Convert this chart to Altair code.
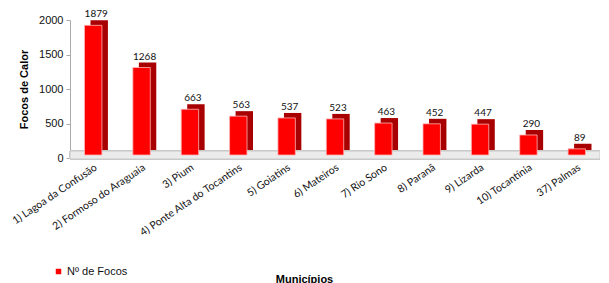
import altair as alt
import pandas as pd

municipios = ["1) Lagoa da Confusão", "2) Formoso do Araguaia", "3) Pium",
              "4) Ponte Alta do Tocantins", "5) Goiatins", "6) Mateiros",
              "7) Rio Sono", "8) Paranã", "9) Lizarda", "10) Tocantínia", "37) Palmas"]
focos = [1879, 1268, 663, 563, 537, 523, 463, 452, 447, 290, 89]
serie = ["Nº de Focos"] * len(focos)

df = pd.DataFrame({"Municipio": municipios, "Focos": focos, "Serie": serie})

W, H = 530, 138
xs = alt.X("Municipio:N", sort=municipios,
           scale=alt.Scale(paddingInner=0.64, paddingOuter=0.3),
           axis=alt.Axis(title="Municípios", labelAngle=-34, labelFont="Lato",
                         labelFontSize=10.5, labelColor="#111", labelPadding=4,
                         ticks=False, domainColor="#bbbbbb",
                         titleFont="Liberation Sans", titleFontSize=11,
                         titleFontWeight="bold", titleColor="#000",
                         titleX=234, titleY=115, titleAlign="center",
                         titleBaseline="top"))
yscale = alt.Scale(domain=[0, 2000])
yaxis = alt.Axis(title="Focos de Calor", values=[0, 500, 1000, 1500, 2000],
                 format="d", labelOverlap=False,
                 grid=False, domainColor="#aaaaaa", tickColor="#aaaaaa",
                 tickSize=4, labelFont="Liberation Sans", labelFontSize=11,
                 labelColor="#111", labelPadding=3,
                 titleFont="Liberation Sans", titleFontSize=11,
                 titleFontWeight="bold", titleColor="#000", titlePadding=9)
ys = alt.Y("Focos:Q", scale=yscale, axis=yaxis)

base = alt.Chart(df)

floor = base.mark_rect(fill="#ebebeb", stroke="#c8c8c8", strokeWidth=1,
                       yOffset=-7, y2Offset=1).encode(
    x=alt.value(0), x2=alt.value(W),
    y=alt.Y(datum=0, scale=yscale, axis=yaxis), y2=alt.datum(0))

side = base.mark_bar(color="#a80000", xOffset=6, yOffset=-8, y2Offset=-3).encode(
    x=xs, y=ys)

front = base.mark_bar(stroke="#ffb3b3", strokeWidth=0.8, yOffset=-3, y2Offset=-3).encode(
    x=xs, y=ys,
    color=alt.Color("Serie:N", scale=alt.Scale(range=["#ff0000"]),
                    legend=alt.Legend(title=None, orient="none", legendX=-17, legendY=246,
                                      symbolType="square", symbolSize=30,
                                      symbolStrokeWidth=0, labelOffset=3,
                                      labelFont="Liberation Sans", labelFontSize=11,
                                      labelColor="#111")))

labels = base.mark_text(font="Lato", fontSize=10, color="#111", dx=3, dy=-11,
                        baseline="alphabetic").encode(
    x=xs, y=ys, text="Focos:Q")

chart = alt.layer(floor, side, front, labels).properties(
    width=W, height=H,
    autosize=alt.AutoSizeParams(type="none"),
    padding={"left": 62, "top": 12, "right": 0, "bottom": 125},
).configure_view(stroke=None)

chart.save("out.html", embed_options={"renderer": "svg", "actions": False})
